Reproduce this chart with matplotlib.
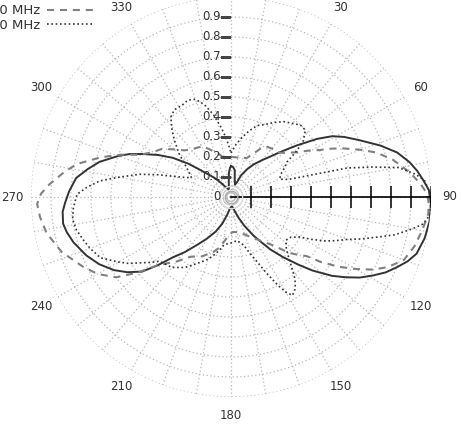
import numpy as np
import matplotlib
matplotlib.use("Agg")
import matplotlib.pyplot as plt
from matplotlib.transforms import offset_copy

# angles in degrees (0 = up, clockwise), normalised field
solid_deg = [0, 4, 8, 12, 18, 22, 25, 30, 35, 40, 44, 48, 52, 56, 59, 62, 66, 71, 75, 79,
             82, 85, 88, 92, 97, 102, 107, 110, 113, 116, 119, 122, 125, 128, 132, 135,
             139, 143, 147, 150, 155, 160, 166, 172, 180, 186, 192, 198, 204, 210, 215,
             220, 224, 227, 230, 234, 238, 243, 248, 254, 258, 261, 265, 268, 272, 277,
             281, 285, 290, 293, 296, 300, 304, 308, 311, 316, 320, 326, 330, 336, 342,
             348, 352, 355, 358, 360]
solid_r = [0.155, 0.15, 0.135, 0.09, 0.065, 0.08, 0.12, 0.16, 0.20, 0.24, 0.28, 0.34, 0.42,
           0.52, 0.59, 0.64, 0.70, 0.79, 0.86, 0.91, 0.94, 0.965, 0.99, 1.0, 1.0, 0.99,
           0.97, 0.94, 0.90, 0.86, 0.81, 0.76, 0.70, 0.64, 0.55, 0.48, 0.40, 0.33, 0.26,
           0.22, 0.16, 0.11, 0.07, 0.05, 0.05, 0.06, 0.09, 0.14, 0.19, 0.24, 0.29, 0.36,
           0.42, 0.50, 0.58, 0.64, 0.69, 0.74, 0.78, 0.82, 0.84, 0.85, 0.845, 0.83, 0.81,
           0.78, 0.73, 0.68, 0.60, 0.55, 0.49, 0.42, 0.35, 0.27, 0.21, 0.15, 0.12, 0.08,
           0.06, 0.05, 0.04, 0.05, 0.08, 0.12, 0.145, 0.155]

dash_deg = [0, 5, 10, 16, 22, 28, 32, 36, 42, 48, 52, 56, 59, 62, 64, 66, 70, 73, 77, 82,
            86, 89, 92, 95, 100, 105, 110, 114, 117, 120, 123, 126, 128, 131, 134, 139,
            145, 150, 157, 163, 168, 177, 183, 188, 193, 198, 206, 214, 220, 227, 231, 235,
            240, 245, 252, 259, 264, 268, 271, 274, 278, 282, 287, 291, 295, 300, 305, 310,
            315, 320, 325, 331, 336, 340, 345, 349, 355, 360]
dash_r = [0.20, 0.20, 0.20, 0.205, 0.21, 0.25, 0.29, 0.31, 0.32, 0.33, 0.36, 0.40, 0.45,
          0.50, 0.55, 0.60, 0.69, 0.76, 0.83, 0.90, 0.95, 0.98, 0.99, 0.99, 0.97, 0.95,
          0.92, 0.86, 0.80, 0.72, 0.64, 0.55, 0.48, 0.44, 0.40, 0.32, 0.27, 0.24, 0.21,
          0.19, 0.18, 0.175, 0.19, 0.22, 0.26, 0.29, 0.33, 0.36, 0.42, 0.50, 0.60, 0.70,
          0.77, 0.82, 0.89, 0.94, 0.96, 0.97, 0.95, 0.91, 0.85, 0.79, 0.68, 0.59, 0.50,
          0.45, 0.42, 0.37, 0.33, 0.31, 0.30, 0.29, 0.26, 0.24, 0.22, 0.20, 0.20, 0.20]

dot_deg = [0, 5, 10, 15, 20, 25, 30, 35, 40, 44, 48, 52, 55, 58, 62, 66, 70, 73, 75, 76,
           78, 80, 83, 85, 88, 90, 95, 98, 100, 103, 105, 108, 110, 113, 115, 118, 120, 124,
           128, 132, 135, 139, 142, 145, 148, 150, 152, 155, 158, 162, 165, 172, 180, 188,
           192, 196, 200, 205, 213, 220, 228, 231, 234, 237, 240, 245, 250, 254, 258, 262,
           266, 271, 274, 277, 280, 284, 287, 290, 293, 296, 300, 305, 310, 315, 319, 323,
           327, 332, 336, 340, 344, 348, 352, 355, 358, 360]
dot_r = [0.22, 0.26, 0.30, 0.34, 0.38, 0.40, 0.43, 0.46, 0.48, 0.50, 0.50, 0.46, 0.40,
         0.33, 0.30, 0.27, 0.26, 0.30, 0.45, 0.60, 0.72, 0.85, 0.93, 0.97, 0.99, 1.0, 1.0,
         0.97, 0.92, 0.84, 0.77, 0.68, 0.62, 0.56, 0.52, 0.45, 0.40, 0.36, 0.35, 0.37,
         0.40, 0.46, 0.52, 0.56, 0.58, 0.55, 0.50, 0.42, 0.35, 0.29, 0.25, 0.22, 0.23,
         0.24, 0.27, 0.30, 0.33, 0.36, 0.42, 0.46, 0.48, 0.52, 0.56, 0.61, 0.65, 0.72,
         0.75, 0.77, 0.79, 0.80, 0.79, 0.77, 0.72, 0.66, 0.57, 0.47, 0.38, 0.30, 0.25,
         0.22, 0.24, 0.28, 0.34, 0.40, 0.45, 0.50, 0.52, 0.52, 0.53, 0.52, 0.48, 0.42,
         0.35, 0.30, 0.25, 0.22]

labels = ["2400 MHz", "2450 MHz", "2500 MHz"]
r_ticks = [0, 0.1, 0.2, 0.3, 0.4, 0.5, 0.6, 0.7, 0.8, 0.9, 1]
angle_labels = [30, 60, 90, 120, 150, 180, 210, 240, 270, 300, 330]


def main():
    fig = plt.figure(figsize=(4.61, 4.24), dpi=100)
    ax = fig.add_axes([31 / 461, 27 / 424, 400 / 461, 400 / 424], projection="polar")
    ax.set_theta_zero_location("N")
    ax.set_theta_direction(-1)
    ax.set_ylim(0, 1)

    l1, = ax.plot(np.radians(solid_deg), solid_r, color="#333333", lw=1.4)
    l2, = ax.plot(np.radians(dash_deg), dash_r, color="#808080", lw=1.5,
                  ls=(0, (3.4, 2.8)))
    l3, = ax.plot(np.radians(dot_deg), dot_r, color="#333333", lw=1.2, ls=(0, (1, 1.6)))

    # grid
    ax.set_xticks(np.radians(np.arange(0, 360, 10)))
    ax.set_xticklabels([str(a) if a in angle_labels else "" for a in range(0, 360, 10)],
                       fontsize=8.5, color="#333333")
    ax.tick_params(axis="x", pad=3)
    ax.set_yticks(np.arange(0.1, 1.01, 0.1))
    ax.set_yticklabels([])
    ax.grid(True, color="#b8b8b8", ls=(0, (1, 2)), lw=0.9)
    ax.spines["polar"].set_visible(False)

    # radial labels on the 0 deg line
    tr = offset_copy(ax.transData, fig=fig, x=-10, y=0, units="dots")
    for r in r_ticks:
        ax.text(0, r, "%g" % r, transform=tr, ha="right", va="center",
                fontsize=8.5, color="#333333")
    ax.plot([0] * 10, r_ticks[1:], ls="none", marker=0, ms=8, mew=0.8, color="#444444")

    # black scale along 90 deg
    ax.plot([np.pi / 2, np.pi / 2], [0, 1], color="black", lw=1.2)
    ax.plot([np.pi / 2] * 10, r_ticks[1:], ls="none", marker="|", ms=16, mew=1.1,
            color="black")

    # small rings at the centre
    ax.plot([0], [0], marker="o", ms=9, mfc="none", mec="#aaaaaa", mew=1)
    ax.plot([0], [0], marker="o", ms=16, mfc="none", mec="#dddddd", mew=1)

    fig.legend([l1, l2, l3], labels, loc="upper left",
               bbox_to_anchor=(-38 / 461, 1 + 22 / 424), frameon=False,
               markerfirst=False, fontsize=9.5, handlelength=3.55,
               labelspacing=0.1, handletextpad=0.5, labelcolor="#333333")

    fig.savefig("out.png", dpi=100)


if __name__ == "__main__":
    main()
